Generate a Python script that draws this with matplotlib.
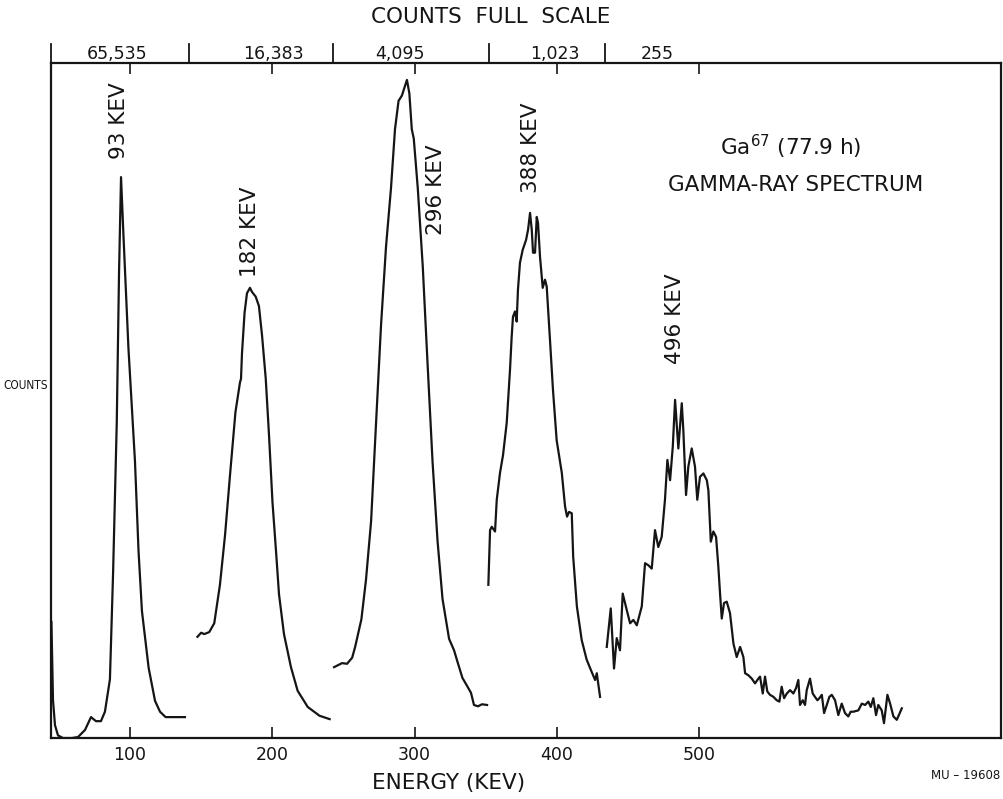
import numpy as np
import matplotlib
matplotlib.use("Agg")
import matplotlib.pyplot as plt
import matplotlib.transforms as mtransforms

# Ga-67 gamma-ray spectrum, five pieces recorded at different full scales
# energy in keV, counts in percent of the (per-piece) full scale
e1 = [44.8, 45.9, 47.3, 49.4, 52.9, 59.2, 63.5, 68.4, 72.6, 76.1, 79.6, 82.4, 85.9,
      88.1, 90.7, 92.3, 93.7, 95.4, 98.9, 103.5, 106.0, 108.4, 113.1, 117.6, 121.1,
      125.0, 129.5, 138.6]
c1 = [17.2, 5.6, 1.9, 0.4, 0.0, 0.0, 0.15, 1.2, 3.1, 2.5, 2.5, 3.9, 8.7,
      24.3, 46.7, 68.9, 83.1, 74.5, 57.8, 41.0, 27.7, 18.8, 10.4, 5.5, 3.9,
      3.1, 3.1, 3.1]

e2 = [147.4, 150.0, 152.2, 155.7, 159.2, 163.2, 166.8, 170.3, 174.1, 177.3, 178.0,
      178.7, 180.5, 182.2, 184.3, 185.7, 188.3, 190.6, 192.8, 195.4, 197.7, 200.1,
      202.6, 204.7, 208.2, 213.1, 217.8, 224.9, 233.2, 240.3]
c2 = [15.0, 15.6, 15.4, 15.7, 17.0, 22.7, 30.1, 39.0, 48.3, 52.7, 53.2,
      57.0, 63.0, 65.9, 66.7, 66.1, 65.4, 64.0, 59.6, 53.2, 44.8, 35.0,
      27.7, 21.3, 15.4, 10.5, 7.0, 4.6, 3.3, 2.8]

e3 = [243.4, 249.0, 252.5, 256.1, 258.2, 262.6, 265.8, 269.4, 272.9, 276.4, 279.9,
      283.4, 286.2, 288.7, 291.1, 292.9, 294.6, 296.3, 298.0, 299.4, 302.2, 305.7,
      309.1, 312.6, 316.1, 319.6, 324.2, 327.7, 330.1, 333.6, 336.1, 339.6, 341.7,
      344.5, 347.3, 350.9]
c3 = [10.5, 11.1, 11.0, 11.9, 13.5, 17.6, 23.4, 32.1, 46.7, 61.2, 72.8,
      81.5, 90.2, 94.4, 95.2, 96.4, 97.5, 95.5, 90.2, 88.8, 81.5, 69.9,
      55.4, 40.9, 29.2, 20.6, 14.7, 13.0, 11.3, 8.9, 8.0, 6.7, 4.9,
      4.7, 5.0, 4.9]

e4 = [351.8, 353.0, 354.2, 356.5, 357.7, 360.0, 362.1, 364.7, 367.0, 368.2, 369.1,
      370.5, 371.7, 372.6, 374.0, 375.9, 378.3, 379.7, 381.1, 382.3, 383.2, 384.6,
      385.8, 386.7, 388.1, 390.0, 391.6, 392.8, 395.1, 397.2, 399.8, 403.4, 405.7,
      407.1, 408.5, 410.4, 411.4, 414.0, 417.4, 420.9, 424.4, 426.8, 428.0, 430.3]
c4 = [22.7, 30.8, 31.3, 30.6, 35.3, 39.3, 41.9, 46.7, 54.5, 59.5, 62.4,
      63.2, 61.7, 66.4, 70.4, 72.3, 73.8, 75.3, 77.8, 75.3, 71.9, 71.9,
      77.2, 76.3, 71.3, 66.7, 67.9, 66.9, 59.0, 51.6, 44.1, 39.3, 34.3,
      32.8, 33.5, 33.3, 26.9, 19.5, 14.5, 11.6, 9.8, 8.6, 9.6, 6.1]

e5 = [435.0, 437.8, 440.1, 442.0, 444.3, 446.2, 449.0, 451.4, 453.7, 456.1, 459.6,
      461.9, 464.2, 466.6, 468.9, 471.2, 473.6, 475.9, 477.6, 479.5, 481.4, 483.0,
      485.3, 487.7, 488.8, 490.7, 492.3, 494.7, 497.0, 498.6, 500.5, 502.9, 505.3,
      506.4, 508.1, 509.9, 511.8, 513.4, 514.6, 515.8, 517.4, 519.3, 521.6, 524.0,
      526.3, 528.7, 531.0, 532.2, 534.5, 536.9, 539.2, 541.5, 542.7, 544.6, 546.2,
      547.8, 549.7, 552.1, 554.4, 556.3, 557.9, 559.6, 561.5, 563.8, 566.1, 568.0,
      569.6, 570.8, 572.7, 574.3, 575.5, 577.8, 579.7, 581.3, 583.0, 584.4, 586.1,
      587.7, 589.6, 591.4, 593.1, 595.4, 597.7, 600.1, 602.4, 604.7, 606.4, 608.3,
      611.8, 614.2, 616.5, 618.8, 620.5, 622.3, 624.2, 625.8, 628.2, 629.8, 632.2,
      634.1, 636.4, 638.8, 642.3]
c5 = [13.5, 19.2, 10.3, 14.8, 13.0, 21.4, 19.0, 17.0, 17.5, 16.7, 19.5,
      25.9, 25.6, 25.1, 30.8, 28.3, 29.8, 35.3, 41.2, 38.2, 43.2, 50.1,
      42.9, 49.6, 45.6, 36.0, 40.2, 42.9, 40.2, 35.3, 38.7, 39.2, 38.2,
      36.7, 29.1, 30.6, 29.8, 25.4, 21.4, 17.7, 20.0, 20.2, 18.5, 14.0,
      12.0, 13.5, 12.0, 9.6, 9.3, 8.8, 8.1, 8.8, 9.1, 6.6, 9.1,
      6.9, 6.4, 6.1, 5.6, 5.4, 7.6, 5.9, 6.6, 7.1, 6.6, 7.4,
      8.6, 4.9, 5.6, 4.9, 7.1, 8.8, 6.6, 6.1, 5.6, 5.9, 6.4,
      3.7, 4.9, 6.1, 6.4, 5.6, 3.4, 5.1, 3.7, 3.2, 3.9, 3.9,
      4.1, 5.1, 4.9, 5.4, 4.6, 5.9, 3.4, 4.9, 4.1, 2.2, 6.4,
      5.1, 3.2, 2.7, 4.4]

peak_labels = ["93 KEV", "182 KEV", "296 KEV", "388 KEV", "496 KEV"]
peak_label_pos = [(92.6, 91.4), (184.3, 75.0), (315.0, 81.2), (382.1, 87.4), (483.0, 62.2)]

# full-scale ranges along the top
scale_edges = [44.5, 141.5, 242.7, 352.3, 433.8]
scale_labels = ["65,535", "16,383", "4,095", "1,023", "255"]
scale_label_x = [90.9, 200.5, 289.7, 398.6, 470.3]

energy_ticks = [100, 200, 300, 400, 500]

ink = '#151515'
plt.rcParams['font.family'] = ['DejaVu Sans']

fig = plt.figure(figsize=(10.04, 7.99), dpi=100)
ax = fig.add_axes([0.0508, 0.0763, 0.9462, 0.8448])

for e, c in [(e1, c1), (e2, c2), (e3, c3), (e4, c4), (e5, c5)]:
    ax.plot(e, c, color=ink, lw=1.6)

ax.set_xlim(44.5, 712.0)
ax.set_ylim(0, 100)
ax.set_yticks([])
ax.set_xticks(energy_ticks)
ax.set_xticklabels([str(t) for t in energy_ticks], fontsize=12.5)
ax.tick_params(axis='x', direction='in', length=8, width=1.2, top=True,
               labeltop=False, pad=6, colors=ink)
for s in ax.spines.values():
    s.set_linewidth(1.6)
    s.set_color(ink)

for lab, (x, y) in zip(peak_labels, peak_label_pos):
    ax.text(x, y, lab, rotation=90, ha='center', va='center', fontsize=15.5, color=ink)

ax.text(564, 87.6, "Ga$^{67}$ (77.9 h)", ha='center', va='center', fontsize=15.5, color=ink)
ax.text(568, 81.9, "GAMMA-RAY SPECTRUM", ha='center', va='center', fontsize=15.5, color=ink)

# counts-full-scale strip above the frame
trans = mtransforms.blended_transform_factory(ax.transData, ax.transAxes)
for x in scale_edges:
    ax.plot([x, x], [1.0, 1.028], transform=trans, color=ink, lw=1.3, clip_on=False)
for lab, x in zip(scale_labels, scale_label_x):
    ax.text(x, 1.013, lab, transform=trans, ha='center', va='center', fontsize=12.5,
            color=ink)
ax.text(0.463, 1.068, "COUNTS  FULL  SCALE", transform=ax.transAxes, ha='center',
        va='center', fontsize=15.5, color=ink)

fig.text(449 / 1004, 1 - 783 / 799, "ENERGY (KEV)", ha='center', va='center',
         fontsize=15.5, color=ink)
fig.text(0.003, 0.517, "COUNTS", ha='left', va='center', fontsize=8.5,
         fontstretch='condensed', color=ink)
fig.text(0.996, 0.029, "MU – 19608", ha='right', va='center', fontsize=8.5, color=ink)

fig.savefig("out.png", dpi=100)
